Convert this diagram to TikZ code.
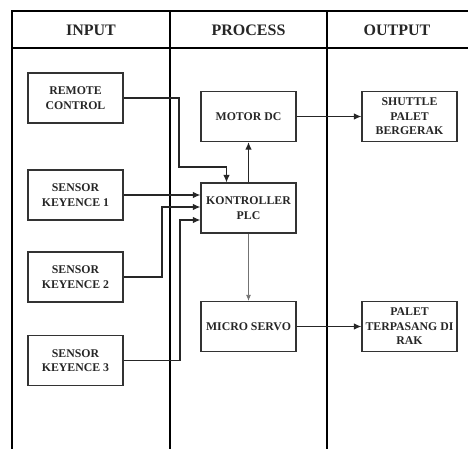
\documentclass[tikz,border=0pt]{standalone}
\usepackage{fontspec}
\setmainfont{Liberation Serif}
\usetikzlibrary{arrows.meta,calc}
\begin{document}
\begin{tikzpicture}[x=1pt,y=-1pt,
  tbl/.style={line width=2.6pt,black},
  blk/.style={draw=black!80,line width=1.3pt,minimum width=95pt,minimum height=50pt,inner sep=1pt,align=center,
     font=\fontsize{11.8}{14.5}\selectfont\bfseries,text=black!85},
  hdr/.style={font=\fontsize{16}{19}\selectfont\bfseries,text=black!85},
  wire/.style={draw=black!85,line width=1.1pt},
  arr/.style={wire,-{Latex[length=7.5pt,width=6.5pt]}},
  thinarr/.style={draw=black!55,line width=0.8pt,-{Latex[length=6pt,width=5pt]}}]
\useasboundingbox (0,0) rectangle (468,448);
\begin{scope}
\clip (0,0) rectangle (468,448);
\draw[tbl] (12,449) -- (12,11) -- (470,11);
\draw[tbl] (12,48) -- (470,48);
\draw[tbl] (170,11) -- (170,449);
\draw[tbl] (327,11) -- (327,449);
\end{scope}
\node[hdr] (hin) at (91,30) {INPUT};
\node[hdr] (hpr) at (248.5,30) {PROCESS};
\node[hdr] (hout) at (397,30) {OUTPUT};

\node[blk] (remote) at (75.5,98) {REMOTE\\CONTROL};
\node[blk] (s1) at (75.5,195) {SENSOR\\KEYENCE 1};
\node[blk] (s2) at (75.5,277) {SENSOR\\KEYENCE 2};
\node[blk] (s3) at (75.5,360.5) {SENSOR\\KEYENCE 3};
\node[blk] (motor) at (248.5,116.5) {MOTOR DC};
\node[blk] (plc) at (248.5,208) {KONTROLLER\\PLC};
\node[blk] (servo) at (248.5,326.5) {MICRO SERVO};
\node[blk] (shuttle) at (409.5,116.5) {SHUTTLE\\PALET\\BERGERAK};
\node[blk] (palet) at (409.5,326.5) {PALET\\TERPASANG DI\\RAK};

\coordinate (r1) at (179,167);
\coordinate (c2) at (162,207);
\coordinate (c3) at (180,220);
\draw[arr] (remote.east) -| (r1) -| ([xshift=-22pt]plc.north);
\draw[arr] (s1.east) -- (s1.east -| plc.west);
\draw[arr] (s2.east) -| (c2) -- (c2 -| plc.west);
\draw[arr] (s3.east) -| (c3) -- (c3 -| plc.west);
\draw[arr] (plc.north) -- (motor.south);
\draw[thinarr] (plc.south) -- (servo.north);
\draw[arr] (motor.east) -- (shuttle.west);
\draw[arr] (servo.east) -- (palet.west);
\end{tikzpicture}
\end{document}
